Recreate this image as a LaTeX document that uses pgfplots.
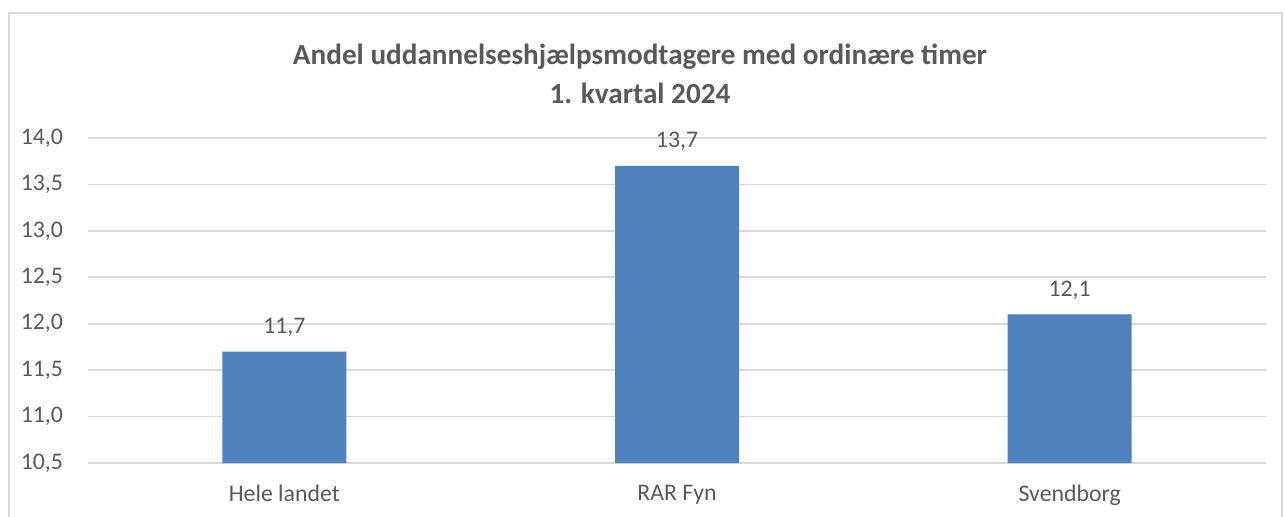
\documentclass[border=0pt]{standalone}
\usepackage{pgfplots}
\pgfplotsset{compat=1.18}
\usepackage{fontspec}
\setmainfont{Carlito}
\definecolor{barblue}{HTML}{4F81BD}
\definecolor{txtgray}{HTML}{595959}
\definecolor{gridgray}{HTML}{D9D9D9}
\begin{document}
\begin{tikzpicture}[x=0.5pt,y=0.5pt]
\path[use as bounding box] (0,0) rectangle (1285,516);
\draw[gridgray, line width=1pt] (9,-20) -- (9,503) -- (1282,503) -- (1282,-20);
\node[text=txtgray, font=\fontsize{14.6}{19.5}\selectfont\bfseries, align=center] at (640,516-74) {Andel uddannelseshjælpsmodtagere med ordinære timer\\1. kvartal 2024};
\begin{axis}[
  at={(44pt,26.5pt)}, anchor=south west,
  scale only axis, width=589pt, height=162.5pt,
  xmin=-0.5, xmax=2.5, ymin=10.5, ymax=14.0,
  ytick={10.5,11,...,14}, xtick={0,1,2},
  xticklabels={Hele landet, RAR Fyn, Svendborg},
  axis line style={draw=none},
  axis x line*=bottom,
  x axis line style={draw=gridgray, line width=1pt},
  major tick length=0pt,
  ymajorgrids, grid style={gridgray, line width=0.8pt},
  tick label style={text=txtgray, font=\fontsize{11.9}{13}\selectfont},
  /pgf/number format/.cd, use comma, fixed, fixed zerofill, precision=1, assume math mode=true,
  /pgfplots/.cd,
  yticklabel style={xshift=-9pt},
  xticklabel style={yshift=-7.5pt},
  ybar, bar width=62pt,
  nodes near coords,
  every node near coord/.append style={text=txtgray, font=\fontsize{11.9}{13}\selectfont, yshift=4pt},
  clip=false,
]
\addplot[fill=barblue, draw=none] coordinates {(0,11.7) (1,13.7) (2,12.1)};
\end{axis}
\end{tikzpicture}
\end{document}
